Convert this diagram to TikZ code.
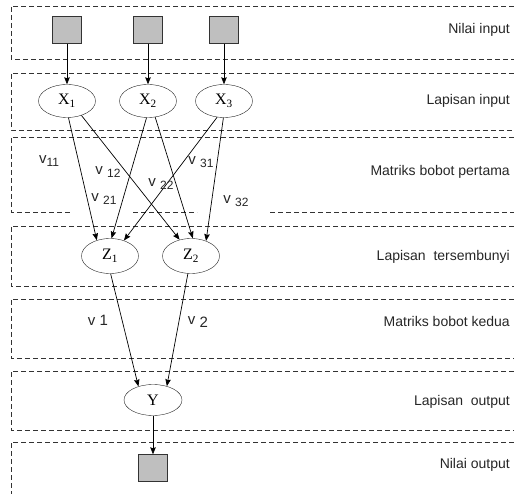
\documentclass[tikz,border=0pt]{standalone}
\usepackage{fontspec}
\setmainfont{Liberation Serif}
\setsansfont{Liberation Sans}
\usetikzlibrary{arrows.meta,shapes.geometric}

\newcommand{\wsub}[1]{\raisebox{-3pt}{\fontsize{12}{14}\selectfont #1}}

\tikzset{
  band/.style={draw=black!80,line width=0.8pt,dash pattern=on 5pt off 3pt},
  layer/.style={font=\sffamily\fontsize{14}{16}\selectfont,text=black!85,anchor=east,inner sep=0pt},
  weight/.style={font=\sffamily\fontsize{15}{17}\selectfont,text=black!85,inner sep=0pt},
}

\begin{document}
\begin{tikzpicture}[x=1pt,y=-1pt]
    \useasboundingbox (0,0) rectangle (514,494);

    % layer bands
    \foreach \t/\b in {6/59,73/130,226/286,299/358,371/430}
      \draw[band] (514,\t) -- (11,\t) -- (11,\b) -- (514,\b);
    \draw[band] (514,137) -- (11,137) -- (11,212) -- (70,212);
    \draw[band] (133,212) -- (197,212);
    \draw[band] (270,212) -- (514,212);
    \draw[band] (514,442) -- (11,442) -- (11,494);

    \begin{scope}[every node/.style={rectangle,draw=black!80,fill=black!25,
        minimum width=29pt,minimum height=27pt,inner sep=0pt}]
      \node (in1) at (67,30) {};
      \node (in2) at (148,30) {};
      \node (in3) at (224,30) {};
      \node (out) at (153,468) {};
    \end{scope}

    \begin{scope}[every node/.style={ellipse,draw=black!85,fill=white,
        minimum width=57pt,minimum height=33pt,inner sep=0pt,
        font=\fontsize{16}{18}\selectfont}]
      \node (x1) at (67,101) {X\textsubscript{1}};
      \node (x2) at (148,101) {X\textsubscript{2}};
      \node (x3) at (224,101) {X\textsubscript{3}};
      \node[minimum height=35pt] (z1) at (110,256) {Z\textsubscript{1}};
      \node[minimum height=35pt] (z2) at (191,256) {Z\textsubscript{2}};
      \node[minimum width=58pt,minimum height=31pt] (y) at (153,400) {Y};
    \end{scope}

    \begin{scope}[>={Stealth[black,length=7pt,width=5.5pt,inset=1pt]},
        every edge/.style={draw=black,line width=0.7pt,->}]
      \path (in1) edge (x1);
      \path (in2) edge (x2);
      \path (in3) edge (x3);
      \path (x1.-85) edge (z1.130);
      \path (x1.-45) edge (z2.125);
      \path (x2.-95) edge (z1.85);
      \path (x2.-66) edge (z2.84);
      \path (x3.-113) edge (z1.48);
      \path (x3.-92) edge (z2.45);
      \path (z1.-88) edge (y.137);
      \path (z2.-100) edge (y.45);
      \path (y) edge (out);
    \end{scope}

    % weights
    \node[weight] (v11) at (49,161) {v\wsub{11}};
    \node[weight] (v12) at (108,172) {v \wsub{12}};
    \node[weight] (v21) at (104,199) {v \wsub{21}};
    \node[weight] (v22) at (161,184) {v \wsub{22}};
    \node[weight] (v31) at (201,162) {v \wsub{31}};
    \node[weight] (v32) at (236,201) {v \wsub{32}};
    \node[weight] (v1) at (98,320) {v 1};
    \node[weight] (v2) at (198,322) {v \raisebox{-3pt}{2}};

    % layer names
    \node[layer] (l1) at (510,30) {Nilai input};
    \node[layer] (l2) at (510,101) {Lapisan input};
    \node[layer] (l3) at (510,172) {Matriks bobot pertama};
    \node[layer] (l4) at (510,257) {Lapisan\ \ tersembunyi};
    \node[layer] (l5) at (510,321) {Matriks bobot kedua};
    \node[layer] (l6) at (510,402) {Lapisan\ \ output};
    \node[layer] (l7) at (510,465) {Nilai output};
\end{tikzpicture}
\end{document}
